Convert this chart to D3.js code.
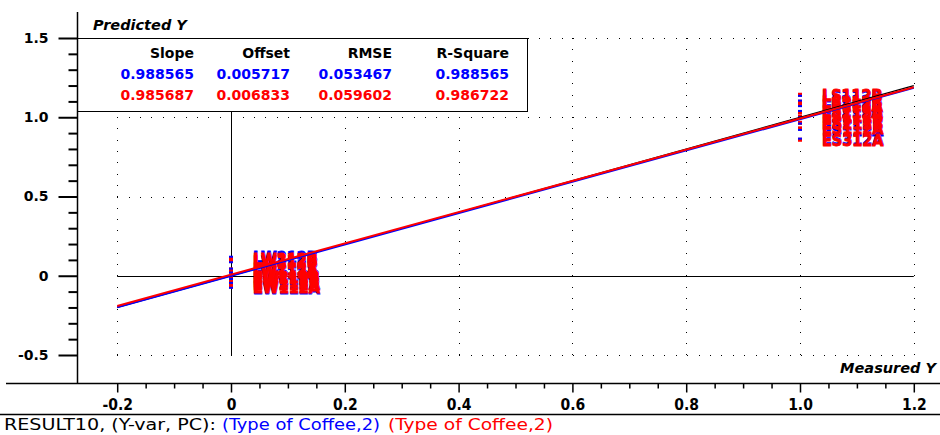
<!DOCTYPE html>
<html>
<head>
<meta charset="utf-8">
<script src="https://cdn.jsdelivr.net/npm/d3@7"></script>
<style>
  body { margin: 0; background: #fff; }
  svg { display: block; }
  .bold { font-family: "DejaVu Sans", sans-serif; font-weight: bold; }
</style>
</head>
<body>
<div id="chart"></div>
<script>
// --------------------------------------------------------- Data variables
var statNames = ['Slope', 'Offset', 'RMSE', 'R-Square'];
var calStats  = [0.988565, 0.005717, 0.053467, 0.988565];
var valStats  = [0.985687, 0.006833, 0.059602, 0.986722];

var sampleNames = ['LW212B', 'LW112B', 'LW212A', 'LW112A', 'EW212B', 'EW112B', 'EW212A', 'EW112A',
                   'LS112B', 'LS212B', 'LS112A', 'LS212A', 'ES112B', 'ES212B', 'ES112A', 'ES312A'];
var measured    = [0, 0, 0, 0, 0, 0, 0, 0,
                   1, 1, 1, 1, 1, 1, 1, 1];
var predCal     = [0.120, 0.085, 0.045, 0.020, 0.000, -0.020, -0.045, -0.076,
                   1.135, 1.105, 1.070, 1.040, 1.000, 0.960, 0.920, 0.865];
var predVal     = [0.108, 0.095, 0.040, 0.025, -0.005, -0.030, -0.050, -0.068,
                   1.142, 1.098, 1.079, 1.032, 1.005, 0.965, 0.930, 0.858];

var xTicks = [-0.2, 0, 0.2, 0.4, 0.6, 0.8, 1.0, 1.2];
var yTicks = [-0.5, 0, 0.5, 1.0, 1.5];
var footer = ['RESULT10, (Y-var, PC):', '(Type of Coffee,2)', '(Type of Coffee,2)'];
var footerColors = ['#000', '#0000ff', '#ff0000'];
// -------------------------------------------------------- /Data variables

var W = 940, H = 435;
var axisX = 77, axisY = 383;
var condFont = '"DejaVu Sans Condensed", "DejaVu Sans", sans-serif';

var x = d3.scaleLinear().domain([-0.2, 1.2]).range([117.2, 913.8]);
var y = d3.scaleLinear().domain([-0.5, 1.5]).range([355, 38]);

function fmt(v) { return v === 0 ? '0' : v.toFixed(1); }

var svg = d3.select('#chart').append('svg')
    .attr('width', W)
    .attr('height', H);

// dotted grid
var grid = svg.append('g')
    .attr('stroke', '#000')
    .attr('stroke-width', 1)
    .attr('shape-rendering', 'crispEdges');

grid.selectAll('.vg')
    .data(xTicks.filter(function(d) { return d !== 0; }))
  .enter().append('line')
    .attr('x1', function(d) { return Math.round(x(d)) + 0.5; })
    .attr('x2', function(d) { return Math.round(x(d)) + 0.5; })
    .attr('y1', y(1.5))
    .attr('y2', y(-0.5) + 1)
    .attr('stroke-dasharray', '1,10.3');

grid.selectAll('.hg')
    .data(yTicks.filter(function(d) { return d !== 0; }))
  .enter().append('line')
    .attr('x1', x(-0.2))
    .attr('x2', x(1.2) + 1)
    .attr('y1', function(d) { return Math.round(y(d)) + 0.5; })
    .attr('y2', function(d) { return Math.round(y(d)) + 0.5; })
    .attr('stroke-dasharray', '1,10.4');

// solid zero cross
svg.append('line')
    .attr('x1', x(-0.2)).attr('x2', x(1.2))
    .attr('y1', Math.round(y(0)) + 0.5).attr('y2', Math.round(y(0)) + 0.5)
    .attr('stroke', '#000');
svg.append('line')
    .attr('x1', Math.round(x(0)) + 0.5).attr('x2', Math.round(x(0)) + 0.5)
    .attr('y1', y(1.5)).attr('y2', y(-0.5))
    .attr('stroke', '#000');

// sample labels: blue under red
var labels = svg.append('g')
    .style('font-family', condFont)
    .style('font-weight', 'bold')
    .style('font-size', '16px')
    .attr('stroke-width', 0.8);
labels.selectAll('.lc')
    .data(sampleNames)
  .enter().append('text')
    .attr('x', function(d, i) { return x(measured[i]) + 22; })
    .attr('y', function(d, i) { return y(predCal[i]) + 6; })
    .attr('fill', '#0000ff')
    .attr('stroke', '#0000ff')
    .text(function(d) { return d; });
labels.selectAll('.lv')
    .data(sampleNames)
  .enter().append('text')
    .attr('x', function(d, i) { return x(measured[i]) + 22; })
    .attr('y', function(d, i) { return y(predVal[i]) + 6; })
    .attr('fill', '#ff0000')
    .attr('stroke', '#ff0000')
    .text(function(d) { return d; });

// markers
svg.append('g').selectAll('rect')
    .data(predVal)
  .enter().append('rect')
    .attr('x', function(d, i) { return x(measured[i]) - 2; })
    .attr('y', function(d) { return y(d) - 2; })
    .attr('width', 4).attr('height', 4)
    .attr('fill', '#ff0000');
svg.append('g').selectAll('rect')
    .data(predCal)
  .enter().append('rect')
    .attr('x', function(d, i) { return x(measured[i]) - 2; })
    .attr('y', function(d) { return y(d) - 1; })
    .attr('width', 4).attr('height', 2)
    .attr('fill', '#0000ff');

// target and regression lines
var ends = [-0.2, 1.2];
var line = d3.line()
    .x(function(d) { return x(d[0]); })
    .y(function(d) { return y(d[1]); });

svg.append('path')
    .attr('d', line(ends.map(function(v) { return [v, v]; })))
    .attr('stroke', '#000').attr('stroke-width', 1.2).attr('fill', 'none');
svg.append('path')
    .attr('d', line(ends.map(function(v) { return [v, calStats[0] * v + calStats[1]]; })))
    .attr('transform', 'translate(0,1)')
    .attr('stroke', '#0000ff').attr('stroke-width', 2).attr('fill', 'none');
svg.append('path')
    .attr('d', line(ends.map(function(v) { return [v, valStats[0] * v + valStats[1]]; })))
    .attr('stroke', '#ff0000').attr('stroke-width', 2).attr('fill', 'none');

// stats table
svg.append('rect')
    .attr('x', axisX + 0.5).attr('y', Math.round(y(1.5)) + 0.5)
    .attr('width', 450).attr('height', 73)
    .attr('fill', '#fff').attr('stroke', '#000');

var colRight = [194, 290, 392, 509];
var table = svg.append('g').attr('class', 'bold')
    .style('font-size', '14px')
    .attr('text-anchor', 'end');
table.selectAll('.h').data(statNames).enter().append('text')
    .attr('x', function(d, i) { return colRight[i]; }).attr('y', 58)
    .attr('fill', '#000').text(function(d) { return d; });
table.selectAll('.c').data(calStats).enter().append('text')
    .attr('x', function(d, i) { return colRight[i]; }).attr('y', 79)
    .attr('fill', '#0000ff').text(function(d) { return d.toFixed(6); });
table.selectAll('.v').data(valStats).enter().append('text')
    .attr('x', function(d, i) { return colRight[i]; }).attr('y', 100)
    .attr('fill', '#ff0000').text(function(d) { return d.toFixed(6); });

// axes
var yMinor = d3.range(-5, 16).map(function(d) { return d / 10; })
    .filter(function(d) { return yTicks.indexOf(d) < 0; });
var xMinor = d3.range(-4, 25).map(function(d) { return d / 20; })
    .filter(function(d) { return xTicks.indexOf(d) < 0; });

var yAxis = svg.append('g')
    .attr('transform', 'translate(' + (axisX + 0.5) + ',0)')
    .call(d3.axisLeft(y).tickValues(yTicks).tickSize(19).tickPadding(10).tickFormat(fmt));
yAxis.append('g')
    .call(d3.axisLeft(y).tickValues(yMinor).tickSize(9).tickFormat(''));
yAxis.selectAll('.domain').remove();
yAxis.selectAll('line').attr('stroke', '#000').attr('stroke-width', 2);
yAxis.selectAll('text').style('font-size', '14px').style('font-family', '"DejaVu Sans"')
    .style('font-weight', 'bold').attr('fill', '#000');

var xAxis = svg.append('g')
    .attr('transform', 'translate(0,' + (axisY + 0.5) + ')')
    .call(d3.axisBottom(x).tickValues(xTicks).tickSize(9).tickPadding(6).tickFormat(fmt));
xAxis.append('g')
    .call(d3.axisBottom(x).tickValues(xMinor).tickSize(5).tickFormat(''));
xAxis.selectAll('.domain').remove();
xAxis.selectAll('line').attr('stroke', '#000').attr('stroke-width', 1.5);
xAxis.selectAll('text').style('font-size', '15.5px').style('font-family', condFont)
    .style('font-weight', 'bold').attr('fill', '#000');

svg.append('line')
    .attr('x1', axisX + 0.5).attr('x2', axisX + 0.5)
    .attr('y1', 12).attr('y2', axisY)
    .attr('stroke', '#000').attr('stroke-width', 1.5);
svg.append('line')
    .attr('x1', 6).attr('x2', W)
    .attr('y1', axisY + 0.5).attr('y2', axisY + 0.5)
    .attr('stroke', '#000').attr('stroke-width', 1.5);
svg.append('line')
    .attr('x1', 0).attr('x2', W)
    .attr('y1', 414.5).attr('y2', 414.5)
    .attr('stroke', '#000').attr('stroke-width', 1.5);

// axis titles
svg.append('text')
    .attr('x', 93).attr('y', 30)
    .style('font', 'italic bold 14.5px "DejaVu Sans"')
    .text('Predicted Y');
svg.append('text')
    .attr('x', 936).attr('y', 373)
    .attr('text-anchor', 'end')
    .style('font', 'italic bold 14.5px "DejaVu Sans"')
    .text('Measured Y');

// footer, three coloured parts
var footX = [4, 222, 388], footLen = [212, 158, 165];
svg.append('g').selectAll('text')
    .data(footer)
  .enter().append('text')
    .attr('x', function(d, i) { return footX[i]; })
    .attr('y', 430)
    .attr('textLength', function(d, i) { return footLen[i]; })
    .attr('lengthAdjust', 'spacingAndGlyphs')
    .style('font-size', '16px')
    .style('font-family', condFont)
    .attr('fill', function(d, i) { return footerColors[i]; })
    .text(function(d) { return d; });
</script>
</body>
</html>
